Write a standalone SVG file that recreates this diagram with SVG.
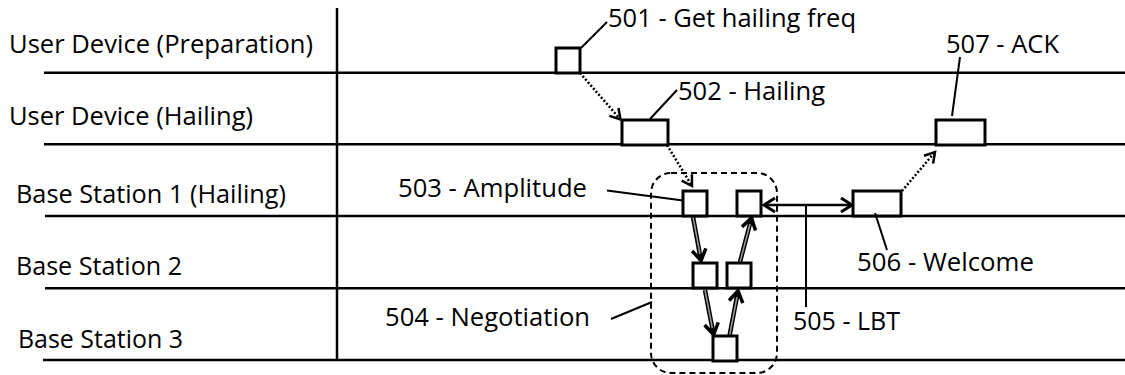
<svg xmlns="http://www.w3.org/2000/svg" width="1125" height="375" viewBox="0 0 1125 375">
  <style>
    .lane { stroke: #000; stroke-width: 2.5; fill: none; }
    .box { fill: #fff; stroke: #000; stroke-width: 3; }
    .lbl { font-family: "Open Sans", "Noto Sans", sans-serif; font-size: 26px; fill: #000; }
    .lead { stroke: #000; stroke-width: 2; fill: none; }
    .dbl { stroke: #000; stroke-width: 2.5; fill: none; }
    .dot { stroke: #000; stroke-width: 2.5; stroke-dasharray: 2 2; fill: none; }
    .thick { stroke: #000; stroke-width: 4.5; fill: none; }
    .thin { stroke: #9a9a9a; stroke-width: 1.5; fill: none; }
    .grp { fill: none; stroke: #000; stroke-width: 2; stroke-dasharray: 6 4; }
  </style>
  <defs>
    <marker id="vhead" markerUnits="userSpaceOnUse" markerWidth="16" markerHeight="16" viewBox="-12 -8 14 16" refX="0" refY="0" orient="auto">
      <path d="M -10 -6 L 0 0 L -10 6" fill="none" stroke="#000" stroke-width="2.5"/>
    </marker>
    <marker id="vheadT" markerUnits="userSpaceOnUse" markerWidth="18" markerHeight="18" viewBox="-13 -9 15 18" refX="0" refY="0" orient="auto">
      <path d="M -11 -7 L 0 0 L -11 7" fill="none" stroke="#000" stroke-width="3.5"/>
    </marker>
    <marker id="vheadS" markerUnits="userSpaceOnUse" markerWidth="16" markerHeight="18" viewBox="-12 -9 14 18" refX="0" refY="0" orient="auto-start-reverse">
      <path d="M -11 -7 L 0 0 L -11 7" fill="none" stroke="#000" stroke-width="3"/>
    </marker>
  </defs>

  <g id="lanes">
    <line class="lane" x1="44" y1="72.7" x2="1125" y2="72.7"/>
    <line class="lane" x1="44" y1="144.3" x2="1125" y2="144.3"/>
    <line class="lane" x1="45" y1="216" x2="1125" y2="216"/>
    <line class="lane" x1="45" y1="288.3" x2="1125" y2="288.3"/>
    <line class="lane" x1="43" y1="360" x2="1125" y2="360"/>
    <line class="lane" x1="337" y1="8" x2="337" y2="361"/>
    <text class="lbl" x="9" y="53" textLength="304" lengthAdjust="spacingAndGlyphs">User Device (Preparation)</text>
    <text class="lbl" x="9" y="125" textLength="244" lengthAdjust="spacingAndGlyphs">User Device (Hailing)</text>
    <text class="lbl" x="16" y="202.5" textLength="270" lengthAdjust="spacingAndGlyphs">Base Station 1 (Hailing)</text>
    <text class="lbl" x="16" y="274.5" textLength="166" lengthAdjust="spacingAndGlyphs">Base Station 2</text>
    <text class="lbl" x="18" y="347.5" textLength="165" lengthAdjust="spacingAndGlyphs">Base Station 3</text>
  </g>

  <g id="group504">
    <rect class="grp" x="651" y="173" width="126" height="200" rx="20" ry="20"/>
    <line class="lead" x1="611" y1="319" x2="652" y2="302"/>
    <text class="lbl" x="385" y="326" textLength="205" lengthAdjust="spacingAndGlyphs">504 - Negotiation</text>
  </g>

  <g id="connectors">
    <line class="dot" x1="580" y1="73" x2="620.5" y2="119.5" marker-end="url(#vhead)"/>
    <line class="dot" x1="667" y1="145" x2="692" y2="186" marker-end="url(#vhead)"/>
    <line class="dot" x1="902" y1="191" x2="935" y2="152" marker-end="url(#vhead)"/>

    <line class="thick" x1="693" y1="217" x2="701" y2="260.5" marker-end="url(#vheadT)"/>
    <line class="thin" x1="693" y1="217" x2="700" y2="254"/>
    <line class="thick" x1="705" y1="290" x2="713.5" y2="334.5" marker-end="url(#vheadT)"/>
    <line class="thin" x1="705" y1="290" x2="712.3" y2="328"/>
    <line class="thick" x1="729.5" y1="336" x2="738" y2="291" marker-end="url(#vheadT)"/>
    <line class="thin" x1="729.5" y1="336" x2="737" y2="297"/>
    <line class="thick" x1="740" y1="262" x2="751.5" y2="218" marker-end="url(#vheadT)"/>
    <line class="thin" x1="740" y1="262" x2="750" y2="224"/>

    <line class="dbl" x1="764" y1="205" x2="852" y2="205" marker-start="url(#vheadS)" marker-end="url(#vheadS)"/>
  </g>

  <g id="n501">
    <rect class="box" x="556" y="48" width="24" height="25"/>
    <line class="lead" x1="581" y1="48" x2="607" y2="22"/>
    <text class="lbl" x="608" y="27" textLength="248" lengthAdjust="spacingAndGlyphs">501 - Get hailing freq</text>
  </g>

  <g id="n502">
    <rect class="box" x="622" y="120" width="46" height="25"/>
    <line class="lead" x1="650" y1="119" x2="677" y2="90"/>
    <text class="lbl" x="678" y="100" textLength="147" lengthAdjust="spacingAndGlyphs">502 - Hailing</text>
  </g>

  <g id="n503">
    <rect class="box" x="683" y="191" width="24" height="25"/>
    <line class="lead" x1="607" y1="190.5" x2="683" y2="200.5"/>
    <text class="lbl" x="398" y="196.5" textLength="189" lengthAdjust="spacingAndGlyphs">503 - Amplitude</text>
  </g>

  <g id="n505">
    <rect class="box" x="737" y="191" width="24" height="25"/>
    <line class="lead" x1="806" y1="205" x2="806" y2="307"/>
    <text class="lbl" x="793" y="330" textLength="107" lengthAdjust="spacingAndGlyphs">505 - LBT</text>
  </g>

  <g id="bs2">
    <rect class="box" x="693" y="263" width="24" height="25"/>
    <rect class="box" x="727" y="263" width="24" height="25"/>
  </g>

  <g id="bs3">
    <rect class="box" x="713" y="336" width="24" height="25"/>
  </g>

  <g id="n506">
    <rect class="box" x="853" y="191" width="48" height="25"/>
    <line class="lead" x1="875" y1="213" x2="887" y2="250"/>
    <text class="lbl" x="857" y="271" textLength="177" lengthAdjust="spacingAndGlyphs">506 - Welcome</text>
  </g>

  <g id="n507">
    <rect class="box" x="936" y="120" width="49" height="25"/>
    <line class="lead" x1="952" y1="116" x2="960" y2="57"/>
    <text class="lbl" x="946" y="52.5" textLength="113" lengthAdjust="spacingAndGlyphs">507 - ACK</text>
  </g>
</svg>
